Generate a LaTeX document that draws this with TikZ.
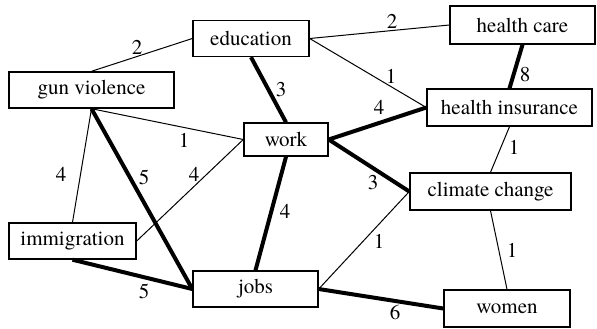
\documentclass[tikz,border=0pt]{standalone}
\usepackage{fontspec}
\setmainfont{texgyretermes-regular.otf}
\usetikzlibrary{positioning}

\tikzset{
    topic/.style={draw, line width=0.7pt, minimum height=18pt, inner sep=0pt,
        font=\fontsize{10.5}{12}\selectfont},
    weak/.style={line width=0.5pt},
    strong/.style={line width=2pt},
    wt/.style={inner sep=0pt, font=\fontsize{10.5}{12}\selectfont}
}

\begin{document}
\begin{tikzpicture}[x=0.5pt, y=-0.5pt]
    \useasboundingbox (0,0) rectangle (597,328);
    % topics
    \node[topic, minimum width=58pt] (edu) at (251,38.5) {education};
    \node[topic, minimum width=72.5pt, minimum height=19pt] (care) at (522.5,25) {health care};
    \node[topic, minimum width=82.5pt] (gun) at (91.5,90) {gun violence};
    \node[topic, minimum width=42pt, minimum height=16.5pt] (work) at (286,139.5) {work};
    \node[topic, minimum width=82.5pt, minimum height=18.5pt] (ins) at (509.5,107.5) {health insurance};
    \node[topic, minimum width=80.5pt, minimum height=18.5pt] (clim) at (490.5,191.5) {climate change};
    \node[topic, minimum width=63.5pt] (imm) at (72.5,241) {immigration};
    \node[topic, minimum width=62.5pt] (jobs) at (255.5,289) {jobs};
    \node[topic, minimum width=63pt, minimum height=18.5pt] (women) at (507,308.5) {women};

    % links
    \draw[weak] (gun.north) -- (edu.west);
    \draw[weak] (gun.south) -- (work.west);
    \draw[strong] (gun.south) -- (jobs.west);
    \draw[weak] (gun.south) -- (imm.north);
    \draw[strong] (edu.south) -- (work.north);
    \draw[weak] (edu.east) -- (care.west);
    \draw[weak] (edu.east) -- (ins.west);
    \draw[strong] (work.east) -- (ins.west);
    \draw[strong] (work.east) -- (clim.west);
    \draw[strong] (work.south) -- (jobs.north);
    \draw[weak] (work.west) -- (imm.east);
    \draw[strong] (care.south) -- (ins.north);
    \draw[weak] (ins.south) -- (clim.north);
    \draw[weak] (clim.south) -- (women.north);
    \draw[strong] (imm.south) -- (jobs.west);
    \draw[weak] (jobs.east) -- (clim.west);
    \draw[strong] (jobs.east) -- (women.west);

    % weights
    \node[wt] (w1) at (137,47) {2};
    \node[wt] (w2) at (281,90) {3};
    \node[wt] (w3) at (184,140) {1};
    \node[wt] (w4) at (61,174) {4};
    \node[wt] (w5) at (144,177) {5};
    \node[wt] (w6) at (194,174) {4};
    \node[wt] (w7) at (285,211) {4};
    \node[wt] (w8) at (144,291) {5};
    \node[wt] (w9) at (392,21) {2};
    \node[wt] (w10) at (391,76) {1};
    \node[wt] (w11) at (379,107) {4};
    \node[wt] (w12) at (525,75) {8};
    \node[wt] (w13) at (514,147) {1};
    \node[wt] (w14) at (373,183) {3};
    \node[wt] (w15) at (379,241) {1};
    \node[wt] (w16) at (512,250) {1};
    \node[wt] (w17) at (395,312) {6};
\end{tikzpicture}
\end{document}
